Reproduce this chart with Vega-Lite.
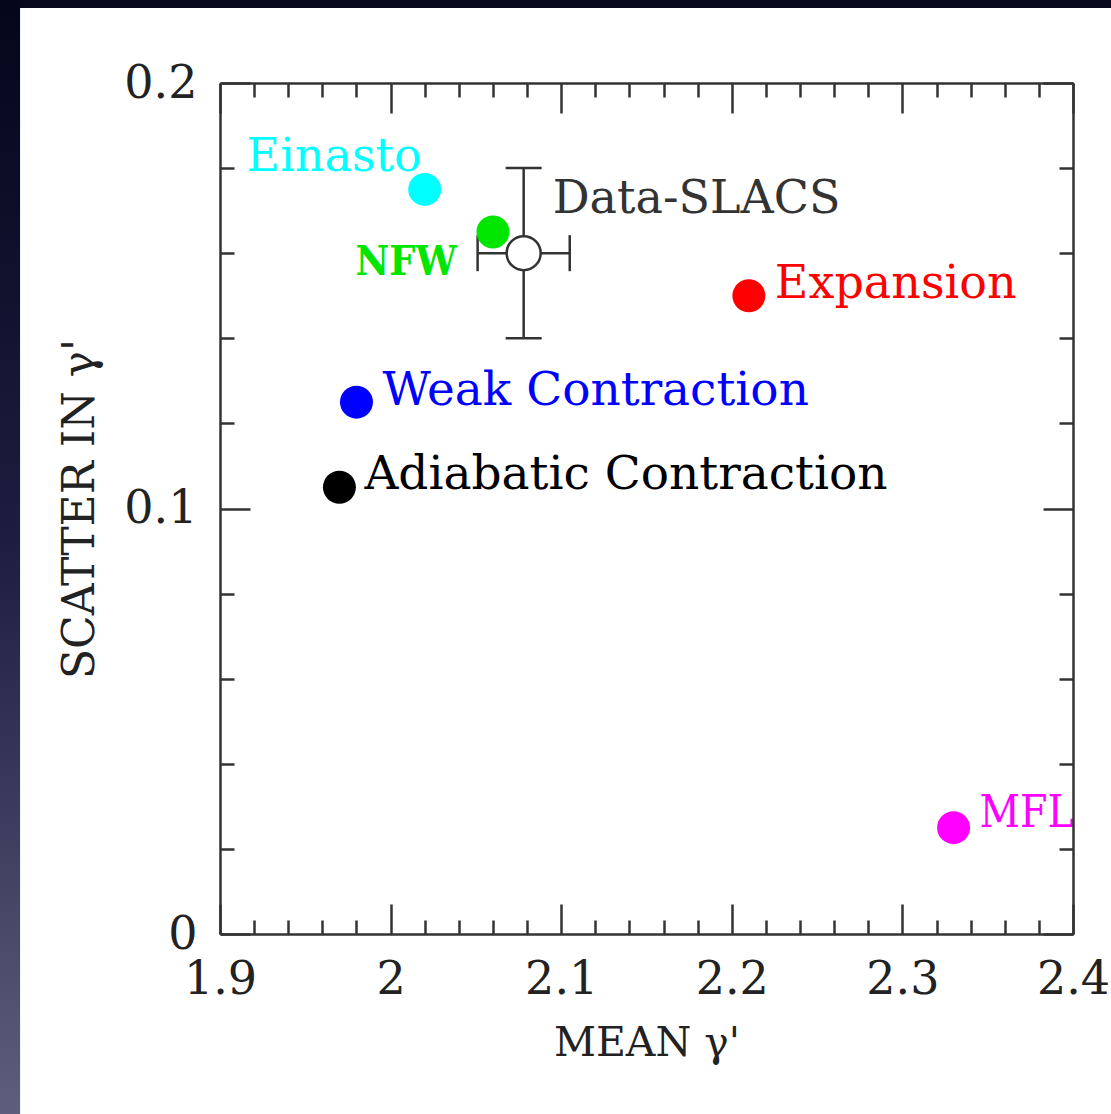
{
  "$schema": "https://vega.github.io/schema/vega-lite/v6.json",
  "width": 853,
  "height": 851,
  "autosize": {"type": "none"},
  "padding": {"left": 220, "top": 83, "right": 38, "bottom": 180},
  "background": "#07071d",
  "config": {
    "view": {"stroke": null},
    "font": "DejaVu Serif",
    "axis": {
      "grid": false,
      "domainColor": "#333333",
      "domainWidth": 2.5,
      "tickColor": "#333333",
      "tickWidth": 2.5,
      "labelFont": "DejaVu Serif",
      "labelFontSize": 46,
      "labelColor": "#222222",
      "labelFlush": false,
      "labelOverlap": false,
      "titleFont": "DejaVu Serif",
      "titleFontWeight": "normal",
      "titleColor": "#222222"
    }
  },
  "data": {
    "values": [
      {"model": "Einasto", "mean": 2.02, "scatter": 0.175},
      {"model": "NFW", "mean": 2.06, "scatter": 0.165},
      {"model": "Expansion", "mean": 2.21, "scatter": 0.150},
      {"model": "Weak Contraction", "mean": 1.98, "scatter": 0.125},
      {"model": "Adiabatic Contraction", "mean": 1.97, "scatter": 0.105},
      {"model": "MFL", "mean": 2.33, "scatter": 0.025},
      {"model": "Data-SLACS", "mean": 2.078, "scatter": 0.160, "mean_lo": 2.051, "mean_hi": 2.105, "scatter_lo": 0.140, "scatter_hi": 0.180}
    ]
  },
  "resolve": {"axis": {"x": "independent", "y": "independent"}},
  "layer": [
    {
      "data": {"values": [{}]},
      "mark": {
        "type": "rect",
        "fill": {
          "gradient": "linear", "x1": 0, "y1": 0, "x2": 0, "y2": 1,
          "stops": [
            {"offset": 0, "color": "#04041a"},
            {"offset": 0.09, "color": "#05051b"},
            {"offset": 0.45, "color": "#1d1d40"},
            {"offset": 0.84, "color": "#5e5e7e"},
            {"offset": 1, "color": "#5e5e7e"}
          ]
        }
      },
      "encoding": {
        "x": {"datum": 1.7, "type": "quantitative", "axis": null},
        "x2": {"datum": 1.7828},
        "y": {"datum": -0.1, "type": "quantitative", "axis": null},
        "y2": {"datum": 0.25}
      }
    },
    {
      "data": {"values": [{}]},
      "mark": {"type": "rect", "fill": "#ffffff"},
      "encoding": {
        "x": {"datum": 1.7828, "type": "quantitative", "axis": null},
        "x2": {"datum": 2.6},
        "y": {"datum": -0.1, "type": "quantitative", "axis": null},
        "y2": {"datum": 0.2176}
      }
    },
    {
      "transform": [{"filter": "datum.model === 'Data-SLACS'"}],
      "mark": {"type": "rule", "color": "#333333", "strokeWidth": 2.5},
      "encoding": {
        "x": {"field": "mean_lo", "type": "quantitative", "axis": null},
        "x2": {"field": "mean_hi"},
        "y": {"field": "scatter", "type": "quantitative", "axis": null}
      }
    },
    {
      "transform": [{"filter": "datum.model === 'Data-SLACS'"}],
      "mark": {"type": "rule", "color": "#333333", "strokeWidth": 2.5},
      "encoding": {
        "x": {"field": "mean", "type": "quantitative", "axis": null},
        "y": {"field": "scatter_lo", "type": "quantitative", "axis": null},
        "y2": {"field": "scatter_hi"}
      }
    },
    {
      "transform": [
        {"filter": "datum.model === 'Data-SLACS'"},
        {"fold": ["mean_lo", "mean_hi"], "as": ["end", "mean_end"]}
      ],
      "mark": {"type": "tick", "orient": "vertical", "size": 36, "thickness": 2.5, "color": "#333333", "opacity": 1},
      "encoding": {
        "x": {"field": "mean_end", "type": "quantitative", "axis": null},
        "y": {"field": "scatter", "type": "quantitative", "axis": null}
      }
    },
    {
      "transform": [
        {"filter": "datum.model === 'Data-SLACS'"},
        {"fold": ["scatter_lo", "scatter_hi"], "as": ["end", "scatter_end"]}
      ],
      "mark": {"type": "tick", "orient": "horizontal", "size": 36, "thickness": 2.5, "color": "#333333", "opacity": 1},
      "encoding": {
        "x": {"field": "mean", "type": "quantitative", "axis": null},
        "y": {"field": "scatter_end", "type": "quantitative", "axis": null}
      }
    },
    {
      "transform": [{"filter": "datum.model !== 'Data-SLACS'"}],
      "mark": {"type": "point", "shape": "circle", "filled": true, "size": 1089, "opacity": 1},
      "encoding": {
        "x": {
          "field": "mean", "type": "quantitative",
          "scale": {"domain": [1.9, 2.4], "nice": false, "zero": false},
          "axis": {
            "orient": "bottom",
            "zindex": 2,
            "title": "MEAN γ'",
            "titleFontSize": 41,
            "values": [1.9, 1.92, 1.94, 1.96, 1.98, 2, 2.02, 2.04, 2.06, 2.08, 2.1, 2.12, 2.14, 2.16, 2.18, 2.2, 2.22, 2.24, 2.26, 2.28, 2.3, 2.32, 2.34, 2.36, 2.38, 2.4],
            "tickSize": {"condition": {"test": "abs(datum.value*10 - round(datum.value*10)) < 0.001", "value": -30}, "value": -14},
            "labelExpr": "abs(datum.value*10 - round(datum.value*10)) < 0.001 ? format(datum.value, '~g') : ''",
            "labelPadding": 53,
            "titlePadding": 5
          }
        },
        "y": {
          "field": "scatter", "type": "quantitative",
          "scale": {"domain": [0, 0.2], "nice": false, "zero": false},
          "axis": {
            "orient": "left",
            "zindex": 2,
            "title": "SCATTER IN γ'",
            "titleFontSize": 44,
            "values": [0, 0.02, 0.04, 0.06, 0.08, 0.1, 0.12, 0.14, 0.16, 0.18, 0.2],
            "tickSize": {"condition": {"test": "abs(datum.value*10 - round(datum.value*10)) < 0.001", "value": -30}, "value": -14},
            "labelExpr": "abs(datum.value*10 - round(datum.value*10)) < 0.001 ? format(datum.value, '~g') : ''",
            "labelPadding": 53,
            "titlePadding": 21
          }
        },
        "color": {
          "field": "model", "type": "nominal", "legend": null,
          "scale": {
            "domain": ["Einasto", "NFW", "Expansion", "Weak Contraction", "Adiabatic Contraction", "MFL"],
            "range": ["#00ffff", "#00e600", "#ff0000", "#0000ff", "#000000", "#ff00ff"]
          }
        }
      }
    },
    {
      "transform": [{"filter": "datum.model === 'Data-SLACS'"}],
      "mark": {"type": "point", "shape": "circle", "filled": false, "fill": "#ffffff", "stroke": "#333333", "strokeWidth": 2.5, "size": 1156, "opacity": 1, "fillOpacity": 1},
      "encoding": {
        "x": {"field": "mean", "type": "quantitative", "axis": null},
        "y": {"field": "scatter", "type": "quantitative", "axis": null}
      }
    },
    {
      "transform": [{"filter": "datum.model === 'Einasto'"}],
      "mark": {"type": "text", "align": "right", "baseline": "alphabetic", "dx": -3, "dy": -18, "fontSize": 46, "color": "#00ffff"},
      "encoding": {
        "x": {"field": "mean", "type": "quantitative", "axis": null},
        "y": {"field": "scatter", "type": "quantitative", "axis": null},
        "text": {"field": "model"}
      }
    },
    {
      "transform": [{"filter": "datum.model === 'NFW'"}],
      "mark": {"type": "text", "align": "right", "baseline": "alphabetic", "dx": -36, "dy": 43, "font": "'DejaVu Serif Condensed', 'DejaVu Serif'", "fontSize": 41, "fontWeight": "bold", "color": "#00e600"},
      "encoding": {
        "x": {"field": "mean", "type": "quantitative", "axis": null},
        "y": {"field": "scatter", "type": "quantitative", "axis": null},
        "text": {"field": "model"}
      }
    },
    {
      "transform": [{"filter": "datum.model === 'Data-SLACS'"}],
      "mark": {"type": "text", "align": "left", "baseline": "alphabetic", "dx": 29, "dy": -40, "fontSize": 46, "color": "#333333"},
      "encoding": {
        "x": {"field": "mean", "type": "quantitative", "axis": null},
        "y": {"field": "scatter", "type": "quantitative", "axis": null},
        "text": {"field": "model"}
      }
    },
    {
      "transform": [{"filter": "datum.model === 'Expansion'"}],
      "mark": {"type": "text", "align": "left", "baseline": "alphabetic", "dx": 26, "dy": 2, "fontSize": 46, "color": "#ff0000"},
      "encoding": {
        "x": {"field": "mean", "type": "quantitative", "axis": null},
        "y": {"field": "scatter", "type": "quantitative", "axis": null},
        "text": {"field": "model"}
      }
    },
    {
      "transform": [{"filter": "datum.model === 'Weak Contraction'"}],
      "mark": {"type": "text", "align": "left", "baseline": "alphabetic", "dx": 26, "dy": 3, "fontSize": 47, "color": "#0000ff"},
      "encoding": {
        "x": {"field": "mean", "type": "quantitative", "axis": null},
        "y": {"field": "scatter", "type": "quantitative", "axis": null},
        "text": {"field": "model"}
      }
    },
    {
      "transform": [{"filter": "datum.model === 'Adiabatic Contraction'"}],
      "mark": {"type": "text", "align": "left", "baseline": "alphabetic", "dx": 25, "dy": 2, "fontSize": 47, "color": "#000000"},
      "encoding": {
        "x": {"field": "mean", "type": "quantitative", "axis": null},
        "y": {"field": "scatter", "type": "quantitative", "axis": null},
        "text": {"field": "model"}
      }
    },
    {
      "transform": [{"filter": "datum.model === 'MFL'"}],
      "mark": {"type": "text", "align": "left", "baseline": "alphabetic", "dx": 26, "dy": -1, "font": "'DejaVu Serif Condensed', 'DejaVu Serif'", "fontSize": 44, "color": "#ff00ff"},
      "encoding": {
        "x": {"field": "mean", "type": "quantitative", "axis": null},
        "y": {"field": "scatter", "type": "quantitative", "axis": null},
        "text": {"field": "model"}
      }
    },
    {
      "mark": {"type": "point", "opacity": 0},
      "encoding": {
        "x": {
          "field": "mean", "type": "quantitative",
          "axis": {
            "orient": "top",
            "zindex": 2,
            "title": null,
            "labels": false,
            "values": [1.9, 1.92, 1.94, 1.96, 1.98, 2, 2.02, 2.04, 2.06, 2.08, 2.1, 2.12, 2.14, 2.16, 2.18, 2.2, 2.22, 2.24, 2.26, 2.28, 2.3, 2.32, 2.34, 2.36, 2.38, 2.4],
            "tickSize": {"condition": {"test": "abs(datum.value*10 - round(datum.value*10)) < 0.001", "value": -30}, "value": -14}
          }
        },
        "y": {
          "field": "scatter", "type": "quantitative",
          "axis": {
            "orient": "right",
            "zindex": 2,
            "title": null,
            "labels": false,
            "values": [0, 0.02, 0.04, 0.06, 0.08, 0.1, 0.12, 0.14, 0.16, 0.18, 0.2],
            "tickSize": {"condition": {"test": "abs(datum.value*10 - round(datum.value*10)) < 0.001", "value": -30}, "value": -14}
          }
        }
      }
    }
  ]
}
